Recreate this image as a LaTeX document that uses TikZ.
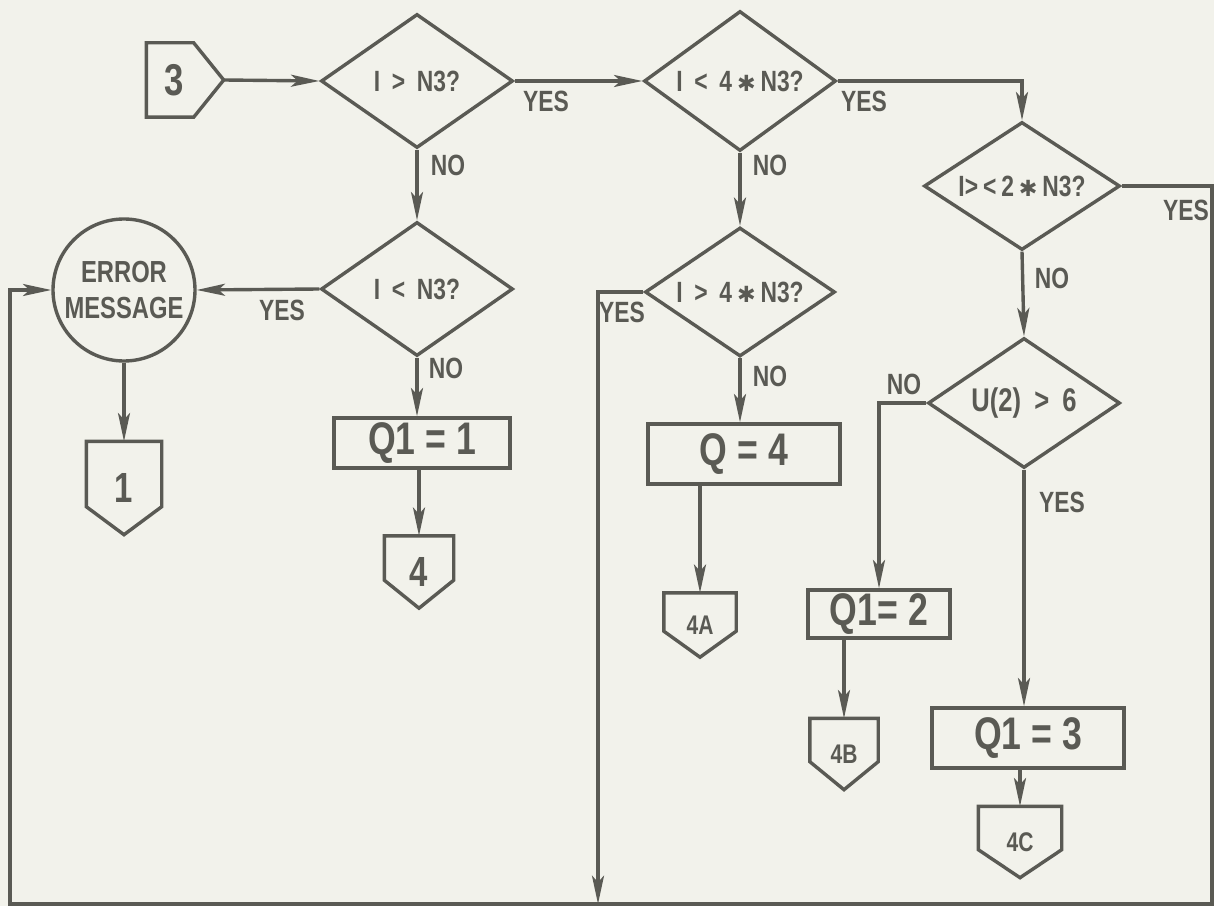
\documentclass[tikz,border=0pt]{standalone}
\usepackage{fontspec}
\setmainfont{Liberation Sans}[FakeStretch=0.78]
\newfontfamily\djv{DejaVu Sans}
\usetikzlibrary{shapes.geometric,arrows.meta,calc}
\definecolor{bg}{HTML}{F2F2EB}
\definecolor{ln}{HTML}{5A5A54}
\def\pxu{0.03cm}
\newcommand\dpent[2]{\draw[ln] (#1.north west) -- (#1.north east) -- ($(#1.south east)+(0,-#2)$) -- (#1.south) -- ($(#1.south west)+(0,-#2)$) -- cycle;}
\newcommand\myast{{\djv\fontsize{19}{19}\selectfont ✱}}
\newcommand\gapsp{\hspace{0.4em}}
\begin{document}
\begin{tikzpicture}[x=0.03cm,y=-0.03cm,line width=2.9pt,
  every node/.style={text=ln},
  dia/.style={draw=ln, shape=diamond, aspect=1.6, minimum width=192*\pxu, minimum height=134*\pxu, inner sep=0pt, font=\bfseries\fontsize{25}{25}\selectfont},
  box/.style={draw=ln, rectangle, inner sep=0pt, font=\bfseries\fontsize{39}{39}\selectfont},
  lab/.style={inner sep=0pt, font=\bfseries\fontsize{25}{25}\selectfont},
  con/.style={inner sep=0pt, draw=none, font=\bfseries\fontsize{36}{36}\selectfont},
  scon/.style={con, font=\bfseries\fontsize{23}{23}\selectfont},
  arr/.style={draw=ln, -{Stealth[length=0.85cm,width=0.36cm,inset=0.2cm]}}]
\fill[bg] (0,0) rectangle (1214,906);
\useasboundingbox (0,0) rectangle (1214,906);
% connectors (off-page)
\node[con, minimum width=74*\pxu, minimum height=71*\pxu, font=\bfseries\fontsize{38}{38}\selectfont] (c3) at (185,80) {\hspace*{-0.5em}3};
\draw[ln] (c3.north west) -- ($(c3.north east)+(-30,0)$) -- (c3.east) -- ($(c3.south east)+(-30,0)$) -- (c3.south west) -- cycle;
\node[con, minimum width=72*\pxu, minimum height=90*\pxu] (c1) at (124,488) {1};
\dpent{c1}{28}
\node[con, minimum width=66*\pxu, minimum height=69*\pxu] (c4) at (419,572) {4};
\dpent{c4}{28}
\node[scon, minimum width=69*\pxu, minimum height=61*\pxu] (c4a) at (700,625) {4A};
\dpent{c4a}{26}
\node[scon, minimum width=65*\pxu, minimum height=68*\pxu] (c4b) at (844,754) {4B};
\dpent{c4b}{28}
\node[scon, minimum width=80*\pxu, minimum height=68*\pxu] (c4c) at (1020,842) {4C};
\dpent{c4c}{28}
% decisions
\node[dia] (d1) at (417,81) {I\gapsp>\gapsp N3?};
\node[dia, minimum height=140*\pxu] (d2) at (740,81) {I\gapsp<\gapsp4\,\myast\,N3?};
\node[dia, minimum width=196*\pxu, minimum height=128*\pxu] (d3) at (1022,186) {I>\,<\,2\,\myast\,N3?};
\node[dia, minimum height=130*\pxu, font=\bfseries\fontsize{28}{28}\selectfont] (d4) at (1024,403) {U(2)\gapsp>\gapsp6};
\node[dia] (d5) at (417,289) {I\gapsp<\gapsp N3?};
\node[dia, minimum width=190*\pxu, minimum height=129*\pxu] (d6) at (740,292) {I\gapsp>\gapsp4\,\myast\,N3?};
% error circle
\node[draw=ln, circle, minimum size=142*\pxu, inner sep=0pt, align=center, font=\bfseries\fontsize{26}{30}\selectfont] (err) at (124,290) {ERROR\\MESSAGE};
% processes
\node[box, minimum width=176*\pxu, minimum height=50*\pxu] (q1) at (422,443) {Q1 = 1};
\node[box, minimum width=192*\pxu, minimum height=60*\pxu] (q4) at (744,454) {Q = 4};
\node[box, minimum width=142*\pxu, minimum height=48*\pxu] (q2) at (879,614) {Q1= 2};
\node[box, minimum width=192*\pxu, minimum height=60*\pxu] (q3) at (1028,738) {Q1 = 3};
% labels
\node[lab] (y1) at (546,101) {YES};
\node[lab] (n1) at (448,165) {NO};
\node[lab] (y2) at (864,101) {YES};
\node[lab] (n2) at (770,165) {NO};
\node[lab] (y3) at (1186,210) {YES};
\node[lab] (n3) at (1052,278) {NO};
\node[lab] (n4) at (904,384) {NO};
\node[lab] (y4) at (1062,502) {YES};
\node[lab] (y5) at (282,310) {YES};
\node[lab] (n5) at (446,368) {NO};
\node[lab] (y6) at (622,312) {YES};
\node[lab] (n6) at (770,376) {NO};
% free corner points
\coordinate (rb) at (1212,904);
\coordinate (lb) at (10,904);
\coordinate (yb) at (598,904);
% connectors
\draw[arr] (c3.east) -- (d1.west);
\draw[arr] (d1.east) -- (d2.west);
\draw[arr] (d1.south) -- (d5.north);
\draw[arr] (d2.east) -| (d3.north);
\draw[arr] (d2.south) -- (d6.north);
\draw[arr] (d3.south) -- (d4.north);
\draw[arr] (d4.west) -| (q2.north);
\draw[arr] (d4.south) -- (d4.south |- q3.north);
\draw[arr] (d5.west) -- (err.east);
\draw[arr] (d5.south) -- (d5.south |- q1.north);
\draw[arr] (err.south) -- (c1.north);
\draw[arr] (c4.north |- q1.south) -- (c4.north);
\draw[arr] (d6.south) -- (d6.south |- q4.north);
\draw[arr] (c4a.north |- q4.south) -- (c4a.north);
\draw[arr] (c4b.north |- q2.south) -- (c4b.north);
\draw[arr] (c4c.north |- q3.south) -- (c4c.north);
\draw[arr] (d6.west) -| (yb);
\draw[arr] (d3.east) -| (rb) -- (lb) |- (err.west);
\end{tikzpicture}
\end{document}
